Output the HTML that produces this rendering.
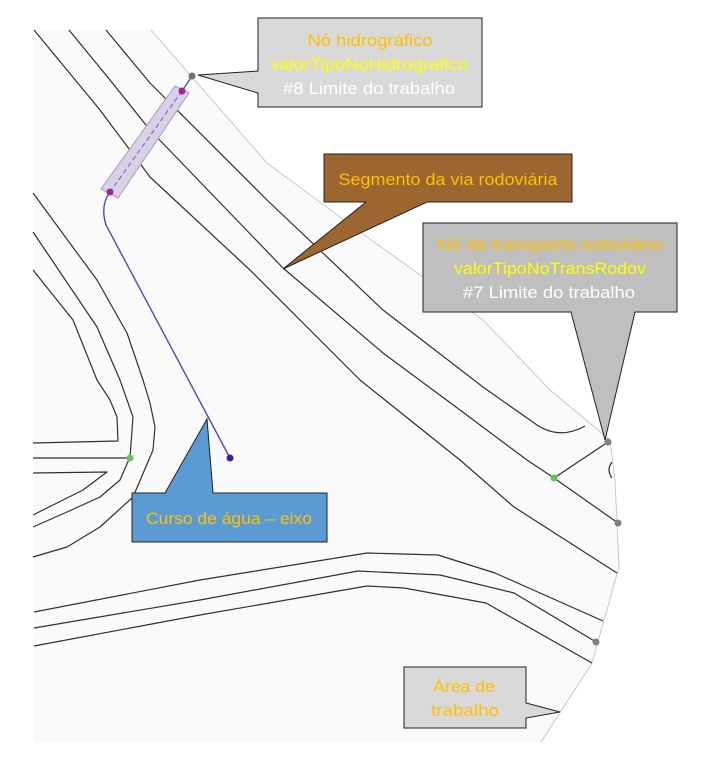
<!DOCTYPE html>
<html><head><meta charset="utf-8"><style>
html,body{margin:0;padding:0;background:#fff}
svg{display:block}
text{font-family:"Liberation Sans Narrow","Liberation Sans",sans-serif;font-size:17px;text-anchor:middle}
</style></head><body>
<svg width="717" height="780" viewBox="0 0 717 780" xmlns="http://www.w3.org/2000/svg">
<polygon points="34,30 151,30 267,163 367,237 483,320 550,390 610,440 619,567 592,663 541,742 34,742" fill="#fafafa"/>
<polyline points="151,30 267,163 367,237 483,320 550,390 610,440 615,480 619,567 592,663 541,742" fill="none" stroke="#c8c8c8" stroke-width="1" stroke-linejoin="round"/>
<g fill="none" stroke="#3a2e22" stroke-width="1.2" stroke-linejoin="round">
<!-- top road lines -->
<polyline points="34,30 100,110 150,177 250,270 360,380 460,460 514,507 617,573"/>
<polyline points="69,30 110,80 150,130 283,268 383,353 460,410 527,460 554,478 618,523"/>
<path d="M106,30 L150,83 L267,200 L383,310 L483,387 L537,425 Q560,440 585,426"/>
<polyline points="554,478 608,442"/>
<path d="M612,462 Q606,470 612,478"/>
<!-- left funnel -->
<polyline points="33,270 73,320 97,380 110,400 117,417 118,441 33,443"/>
<polyline points="33,232 97,327 120,380 133,417 130,457 120,480 100,497 67,512 33,527"/>
<polyline points="33,458 130,458"/>
<polyline points="33,473 107,472 83,490 57,503 33,515"/>
<polyline points="33,193 97,280 127,333 143,380 150,403 155,427 153,450 133,497 100,527 67,547 33,557"/>
<!-- bottom lines -->
<polyline points="34,612 200,580 367,553 438,555 495,573 603,621"/>
<polyline points="34,628 200,600 358,571 440,575 514,593 596,642"/>
<polyline points="34,646 200,615 367,586 404,588 486,603 592,663"/>
</g>
<!-- purple band -->
<polygon points="175,86 189,93 118,198 101,189" fill="#d9d2e6" stroke="#a79cc0" stroke-width="1"/>
<line x1="182" y1="91" x2="110" y2="192" stroke="#6a5acd" stroke-width="1" stroke-dasharray="5,3"/>
<line x1="182" y1="91" x2="192" y2="76" stroke="#4444aa" stroke-width="1.2"/>
<path d="M110,192 Q100,205 106,225 L230,458" fill="none" stroke="#4b48c8" stroke-width="1.4"/>
<circle cx="192" cy="76" r="3.5" fill="#707080"/>
<circle cx="182" cy="91" r="3.5" fill="#a020a0"/>
<circle cx="110" cy="192" r="3.5" fill="#a020a0"/>
<circle cx="230" cy="458" r="3.5" fill="#2a2a90"/>
<circle cx="130" cy="458" r="3.5" fill="#5cc85c"/>
<circle cx="554" cy="478" r="3.5" fill="#5cc85c"/>
<circle cx="608" cy="442" r="3.5" fill="#808080"/>
<circle cx="618" cy="523" r="3.5" fill="#808080"/>
<circle cx="596" cy="642" r="3.5" fill="#808080"/>
<!-- callout 1 -->
<path d="M258,18 H482 V107 H258 V93 L198,75 L258,71 Z" fill="#d9d9d9" stroke="#222" stroke-width="1"/>
<text x="370" y="46" fill="#ffc000" textLength="125" lengthAdjust="spacingAndGlyphs">Nó hidrográfico</text>
<text x="369" y="70" fill="#ffff00" textLength="198" lengthAdjust="spacingAndGlyphs">valorTipoNoHidrografico</text>
<text x="369" y="94" fill="#ffffff" textLength="172" lengthAdjust="spacingAndGlyphs">#8 Limite do trabalho</text>
<!-- brown callout -->
<path d="M324,154 H572 V202 H427 L283,269 L366,202 H324 Z" fill="#9c6630" stroke="#222" stroke-width="1"/>
<text x="448" y="185" fill="#ffc000" textLength="219" lengthAdjust="spacingAndGlyphs">Segmento da via rodoviária</text>
<!-- gray callout 2 -->
<path d="M423,223 H677 V312 H635 L605,440 L571,312 H423 Z" fill="#bfbfbf" stroke="#222" stroke-width="1"/>
<text x="550" y="250" fill="#ffc000" textLength="225" lengthAdjust="spacingAndGlyphs">Nó de transporte rodoviário</text>
<text x="550" y="274" fill="#ffff00" textLength="192" lengthAdjust="spacingAndGlyphs">valorTipoNoTransRodov</text>
<text x="549" y="298" fill="#ffffff" textLength="172" lengthAdjust="spacingAndGlyphs">#7 Limite do trabalho</text>
<!-- blue callout -->
<path d="M132,493 H165 L207,419 L213,493 H327 V542 H132 Z" fill="#5b9bd5" stroke="#222" stroke-width="1"/>
<text x="229" y="524" fill="#ffc000" textLength="166" lengthAdjust="spacingAndGlyphs">Curso de água – eixo</text>
<!-- area callout -->
<path d="M404,667 H526 V703 L560,712 L526,718 V728 H404 Z" fill="#d9d9d9" stroke="#222" stroke-width="1"/>
<text x="464" y="692" fill="#ffc000" textLength="62" lengthAdjust="spacingAndGlyphs">Área de</text>
<text x="465" y="716" fill="#ffc000" textLength="68" lengthAdjust="spacingAndGlyphs">trabalho</text>
</svg>
</body></html>
